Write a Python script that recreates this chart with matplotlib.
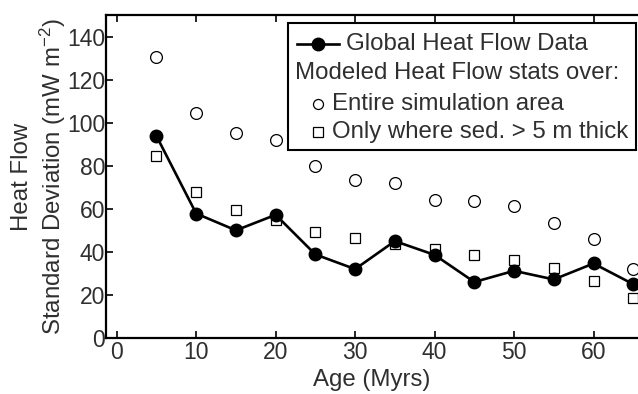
import matplotlib
matplotlib.use('Agg')
import matplotlib.pyplot as plt
from matplotlib.lines import Line2D
from matplotlib.patches import Rectangle

plt.rcParams['font.family'] = ['Liberation Sans', 'DejaVu Sans']
plt.rcParams['mathtext.fontset'] = 'custom'
plt.rcParams['mathtext.rm'] = 'Liberation Sans'
plt.rcParams['mathtext.it'] = 'Liberation Sans'

# data
ages = [5, 10, 15, 20, 25, 30, 35, 40, 45, 50, 55, 60, 65]
global_sd = [93.8, 57.8, 50.0, 57.2, 38.8, 32.0, 45.0, 38.6, 26.0, 31.2, 27.2, 34.6, 25.0]
model_all = [130.6, 104.5, 95.2, 92.1, 79.7, 73.5, 72.0, 64.2, 63.4, 61.2, 53.6, 45.8, 32.0]
model_sed = [84.6, 67.6, 59.4, 54.6, 49.0, 46.4, 43.6, 41.4, 38.6, 36.2, 32.6, 26.6, 18.8]

xticks = [0, 10, 20, 30, 40, 50, 60]
yticks = [0, 20, 40, 60, 80, 100, 120, 140]

TXT = '#2f2f2f'
FS = 17.3      # labels and legend
FS_TICK = 16.5
W, H = 638, 394


def fx(px):
    return px / W


def fy(py):
    return 1 - py / H


def main():
    fig = plt.figure(figsize=(W / 100, H / 100), dpi=100)
    ax = fig.add_axes([fx(106), fy(338), fx(638) - fx(106), fy(15) - fy(338)])

    ax.plot(ages, model_all, linestyle='none', marker='o', markersize=8.5,
            markerfacecolor='white', markeredgecolor='black', markeredgewidth=0.9)
    ax.plot(ages, model_sed, linestyle='none', marker='s', markersize=7.5,
            markerfacecolor='white', markeredgecolor='black', markeredgewidth=0.9)
    ax.plot(ages, global_sd, color='black', linewidth=1.9, marker='o',
            markersize=9, markerfacecolor='black', markeredgecolor='black')

    ax.set_xlim(-1.35, 65.6)
    ax.set_ylim(0, 150)
    ax.set_xticks(xticks)
    ax.set_yticks(yticks)
    ax.tick_params(direction='in', length=5, width=1.2, top=True, right=False,
                   labelsize=FS_TICK, labelcolor=TXT)
    ax.tick_params(axis='x', pad=2.5)
    ax.tick_params(axis='y', pad=0.6)
    ax.spines['right'].set_visible(False)
    for s in ['left', 'bottom', 'top']:
        ax.spines[s].set_linewidth(1.6)

    ax.set_xlabel('Age (Myrs)', fontsize=FS, color=TXT, labelpad=3)
    ax.set_ylabel('Heat Flow\nStandard Deviation (mW m$^{-2}$)', fontsize=FS,
                  color=TXT, linespacing=1.2)
    ax.yaxis.set_label_coords(-0.071, 0.5)

    # legend box drawn by hand (second row has no handle and is left aligned)
    fig.add_artist(Rectangle((fx(288), fy(150)), fx(636) - fx(288), fy(23) - fy(150),
                             transform=fig.transFigure, facecolor='white',
                             edgecolor='black', linewidth=1.5, zorder=5))
    fig.add_artist(Line2D([fx(297), fx(339)], [fy(44), fy(44)], color='black',
                          linewidth=1.9, zorder=6, transform=fig.transFigure))
    fig.add_artist(Line2D([fx(318)], [fy(44)], marker='o', markersize=9,
                          color='black', zorder=6, transform=fig.transFigure))
    fig.add_artist(Line2D([fx(318)], [fy(104)], marker='o', markersize=7.2,
                          markerfacecolor='white', markeredgecolor='black',
                          markeredgewidth=0.9, zorder=6, transform=fig.transFigure))
    fig.add_artist(Line2D([fx(318)], [fy(132)], marker='s', markersize=6.6,
                          markerfacecolor='white', markeredgecolor='black',
                          markeredgewidth=0.9, zorder=6, transform=fig.transFigure))
    fig.text(fx(346), fy(44), 'Global Heat Flow Data', fontsize=FS, color=TXT,
             va='center', zorder=7)
    fig.text(fx(295), fy(73), 'Modeled Heat Flow stats over:', fontsize=FS, color=TXT,
             va='center', zorder=7)
    fig.text(fx(332), fy(104), 'Entire simulation area', fontsize=FS, color=TXT,
             va='center', zorder=7)
    fig.text(fx(332), fy(132), 'Only where sed. > 5 m thick', fontsize=FS, color=TXT,
             va='center', zorder=7)

    fig.savefig('out.png', dpi=100)


if __name__ == '__main__':
    main()
